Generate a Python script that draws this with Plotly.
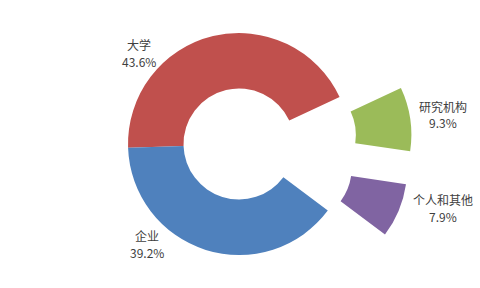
import plotly.graph_objects as go
import math

labels = ["大学", "研究机构", "个人和其他", "企业"]
values = [43.6, 9.3, 7.9, 39.2]
colors = ["#C0504D", "#9BBB59", "#8064A2", "#4F81BD"]
pulled = [False, True, True, False]

W, H = 480, 288
CX, CY, R = 239, 144, 111
HOLE = 0.5
ROT = 268
PULL_PX = 62

def domain(cx, cy):
    return dict(x=[(cx - R) / W, (cx + R) / W],
                y=[1 - (cy + R) / H, 1 - (cy - R) / H])

fig = go.Figure()

# main ring (non-pulled slices)
fig.add_trace(go.Pie(
    labels=labels, values=values, sort=False, direction="clockwise",
    rotation=ROT, hole=HOLE, textinfo="none", showlegend=False,
    marker=dict(colors=[c if not p else "rgba(0,0,0,0)" for c, p in zip(colors, pulled)],
                line=dict(width=0)),
    domain=domain(CX, CY),
))

total = sum(values)
start = ROT
for i, (lab, v) in enumerate(zip(labels, values)):
    span = v / total * 360
    if pulled[i]:
        mid = math.radians(start + span / 2)
        cx = CX + PULL_PX * math.sin(mid)
        cy = CY - PULL_PX * math.cos(mid)
        fig.add_trace(go.Pie(
            labels=labels, values=values, sort=False, direction="clockwise",
            rotation=ROT, hole=HOLE, textinfo="none", showlegend=False,
            marker=dict(colors=[colors[j] if j == i else "rgba(0,0,0,0)" for j in range(len(values))],
                        line=dict(width=0)),
            domain=domain(cx, cy),
        ))
    start += span

# label positions (pixels): name line center
label_pos = {
    "大学": (139, 44),
    "研究机构": (443, 106),
    "个人和其他": (443, 199),
    "企业": (147, 235),
}
font = dict(family="Noto Sans CJK SC, Liberation Sans, sans-serif", size=12, color="#404040")
for lab, v in zip(labels, values):
    x, y = label_pos[lab]
    fig.add_annotation(x=x / W, y=1 - y / H, xref="paper", yref="paper",
                       xanchor="center", yanchor="middle",
                       text=lab, showarrow=False, font=font)
    fig.add_annotation(x=x / W, y=1 - (y + 17) / H, xref="paper", yref="paper",
                       xanchor="center", yanchor="middle",
                       text=f"{v}%", showarrow=False, font=font)

fig.update_layout(
    width=W, height=H, margin=dict(l=0, r=0, t=0, b=0),
    paper_bgcolor="white", plot_bgcolor="white",
)
fig.write_html("out.html")
